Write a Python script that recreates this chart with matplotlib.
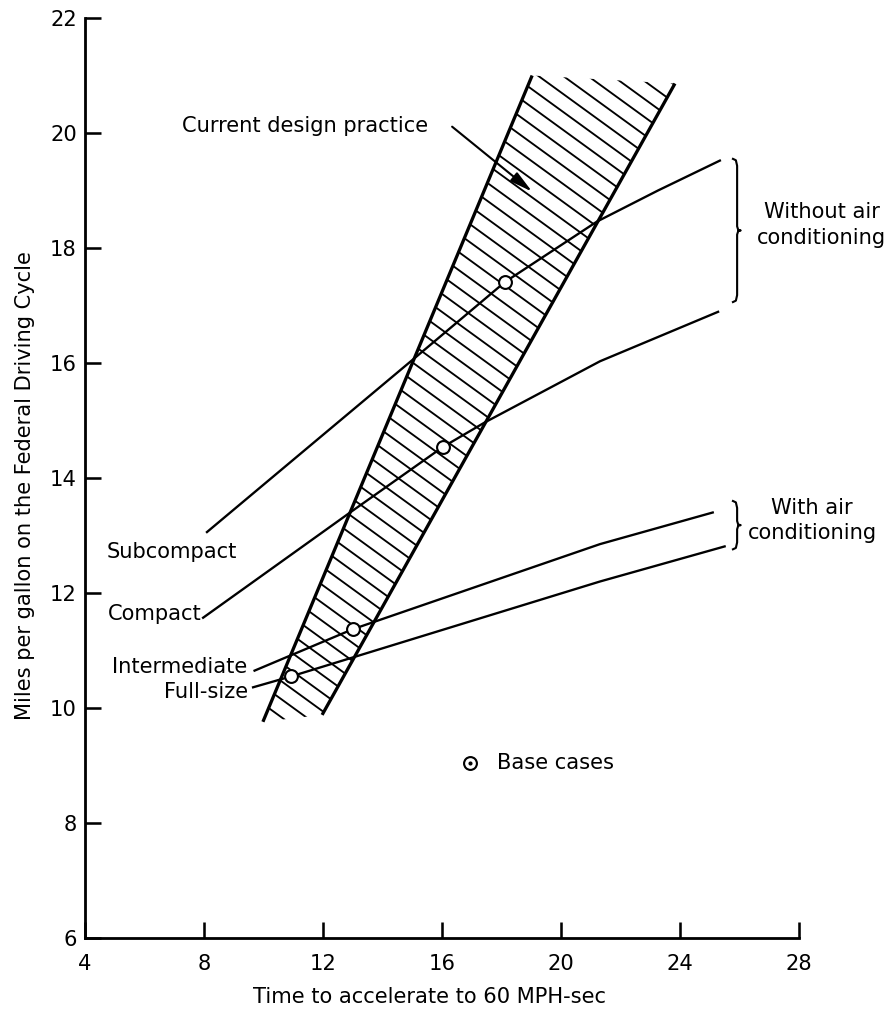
import numpy as np
import matplotlib
matplotlib.use("Agg")
import matplotlib.pyplot as plt
from matplotlib.patches import Polygon

# fuel economy vs. acceleration time, 1970s car classes
subcompact_x = [8.1, 15.16, 18.12, 21.21, 23.26, 25.34]
subcompact_y = [13.06, 16.12, 17.41, 18.46, 19.0, 19.52]

compact_x = [7.97, 12.91, 16.03, 17.45, 21.31, 25.28]
compact_y = [11.57, 13.4, 14.54, 14.97, 16.03, 16.89]

intermediate_x = [9.7, 13.0, 21.31, 25.1]
intermediate_y = [10.65, 11.37, 12.85, 13.4]

fullsize_x = [9.65, 10.93, 21.31, 25.5]
fullsize_y = [10.36, 10.55, 12.2, 12.81]

# base case for each class
base_x = [18.12, 16.03, 13.0, 10.93]
base_y = [17.41, 14.54, 11.37, 10.55]

# current design practice band (left and right edges)
band_left_x = [9.98, 19.03]
band_left_y = [9.76, 21.0]
band_right_x = [11.97, 23.83]
band_right_y = [9.88, 20.86]

x_ticks = [4, 8, 12, 16, 20, 24, 28]
y_ticks = [6, 8, 10, 12, 14, 16, 18, 20, 22]

DPI = 84
FS = 18
plt.rcParams['font.family'] = ['DejaVu Sans']

fig = plt.figure(figsize=(891 / DPI, 1021 / DPI), dpi=DPI)
ax = fig.add_axes([85 / 891, 83 / 1021, 714 / 891, 920 / 1021])

ax.set_xlim(4, 28)
ax.set_ylim(6, 22)
for side in ['top', 'right']:
    ax.spines[side].set_visible(False)
for side in ['left', 'bottom']:
    ax.spines[side].set_linewidth(2.4)

ax.set_xticks(x_ticks)
ax.set_yticks(y_ticks)
ax.tick_params(axis='both', direction='in', length=14, width=2.2, labelsize=FS)
ax.tick_params(axis='x', pad=14)
ax.tick_params(axis='y', pad=7)

# hatched band: outline patch used as clip for the hatch strokes
band = Polygon([(band_left_x[0], band_left_y[0]), (band_left_x[1], band_left_y[1]),
                (band_right_x[1], band_right_y[1]), (band_right_x[0], band_right_y[0])],
               closed=True, fill=False, linewidth=0)
ax.add_patch(band)

# hatch strokes at ~36 deg on screen, ~18 px apart vertically
px_x = 714 / 24
px_y = 920 / 16
slope = -np.tan(np.radians(36)) * px_x / px_y
step = 18 / px_y
hx = np.array([8.0, 26.0])
for c in np.arange(8.0, 30.0, step):
    ln, = ax.plot(hx, c + slope * (hx - 8.0), color='black', lw=1.6)
    ln.set_clip_path(band)

ax.plot(band_left_x, band_left_y, color='black', lw=2.8, solid_capstyle='butt')
ax.plot(band_right_x, band_right_y, color='black', lw=2.8, solid_capstyle='butt')

# class curves
for xs, ys in [(subcompact_x, subcompact_y), (compact_x, compact_y),
               (intermediate_x, intermediate_y), (fullsize_x, fullsize_y)]:
    ax.plot(xs, ys, color='black', lw=2.0)

ax.plot(base_x, base_y, 'o', ms=11, mfc='white', mec='black', mew=1.8, zorder=5)

lbl = dict(fontsize=FS, va='center')
ax.text(4.74, 12.72, 'Subcompact', ha='left', **lbl)
ax.text(4.77, 11.63, 'Compact', ha='left', **lbl)
ax.text(9.45, 10.72, 'Intermediate', ha='right', **lbl)
ax.text(9.48, 10.27, 'Full-size', ha='right', **lbl)

ax.text(7.26, 20.13, 'Current design practice', ha='left', **lbl)
ax.annotate('', xy=(19.03, 18.98), xytext=(16.34, 20.11),
            arrowprops=dict(arrowstyle='-|>,head_length=0.9,head_width=0.22',
                            color='black', lw=1.8, shrinkA=0, shrinkB=0,
                            mutation_scale=18))

# legend for base cases
ax.plot([16.94], [9.05], 'o', ms=11, mfc='white', mec='black', mew=1.8)
ax.plot([16.94], [9.05], 'o', ms=2.5, color='black')
ax.text(17.85, 9.05, 'Base cases', ha='left', **lbl)


def brace(x, y0, y1, w=0.14, tip=0.12):
    # right-facing curly brace between y0 and y1 at x
    ym = (y0 + y1) / 2
    h = 0.12
    xs = [x - w, x - w * 0.3, x, x, x + tip * 0.3, x + tip, x + tip * 0.3, x, x, x - w * 0.3, x - w]
    ys = [y1, y1 - h * 0.2, y1 - h, ym + h * 0.6, ym + h * 0.1, ym, ym - h * 0.1,
          ym - h * 0.6, y0 + h, y0 + h * 0.2, y0]
    ax.plot(xs, ys, color='black', lw=1.8, clip_on=False)


brace(25.92, 17.06, 19.55)
brace(25.92, 12.76, 13.6)
ax.text(26.59, 18.4, 'Without air\nconditioning', ha='left', va='center',
        multialignment='center', linespacing=1.35, fontsize=FS)
ax.text(28.44, 13.26, 'With air\nconditioning', ha='center', va='center',
        linespacing=1.35, fontsize=FS)

ax.set_xlabel('Time to accelerate to 60 MPH-sec', fontsize=FS, va='center')
ax.xaxis.set_label_coords(0.483, -0.064)
ax.set_ylabel('Miles per gallon on the Federal Driving Cycle', fontsize=FS, va='center')
ax.yaxis.set_label_coords(-0.084, 0.492)

fig.savefig('out.png', dpi=DPI)
